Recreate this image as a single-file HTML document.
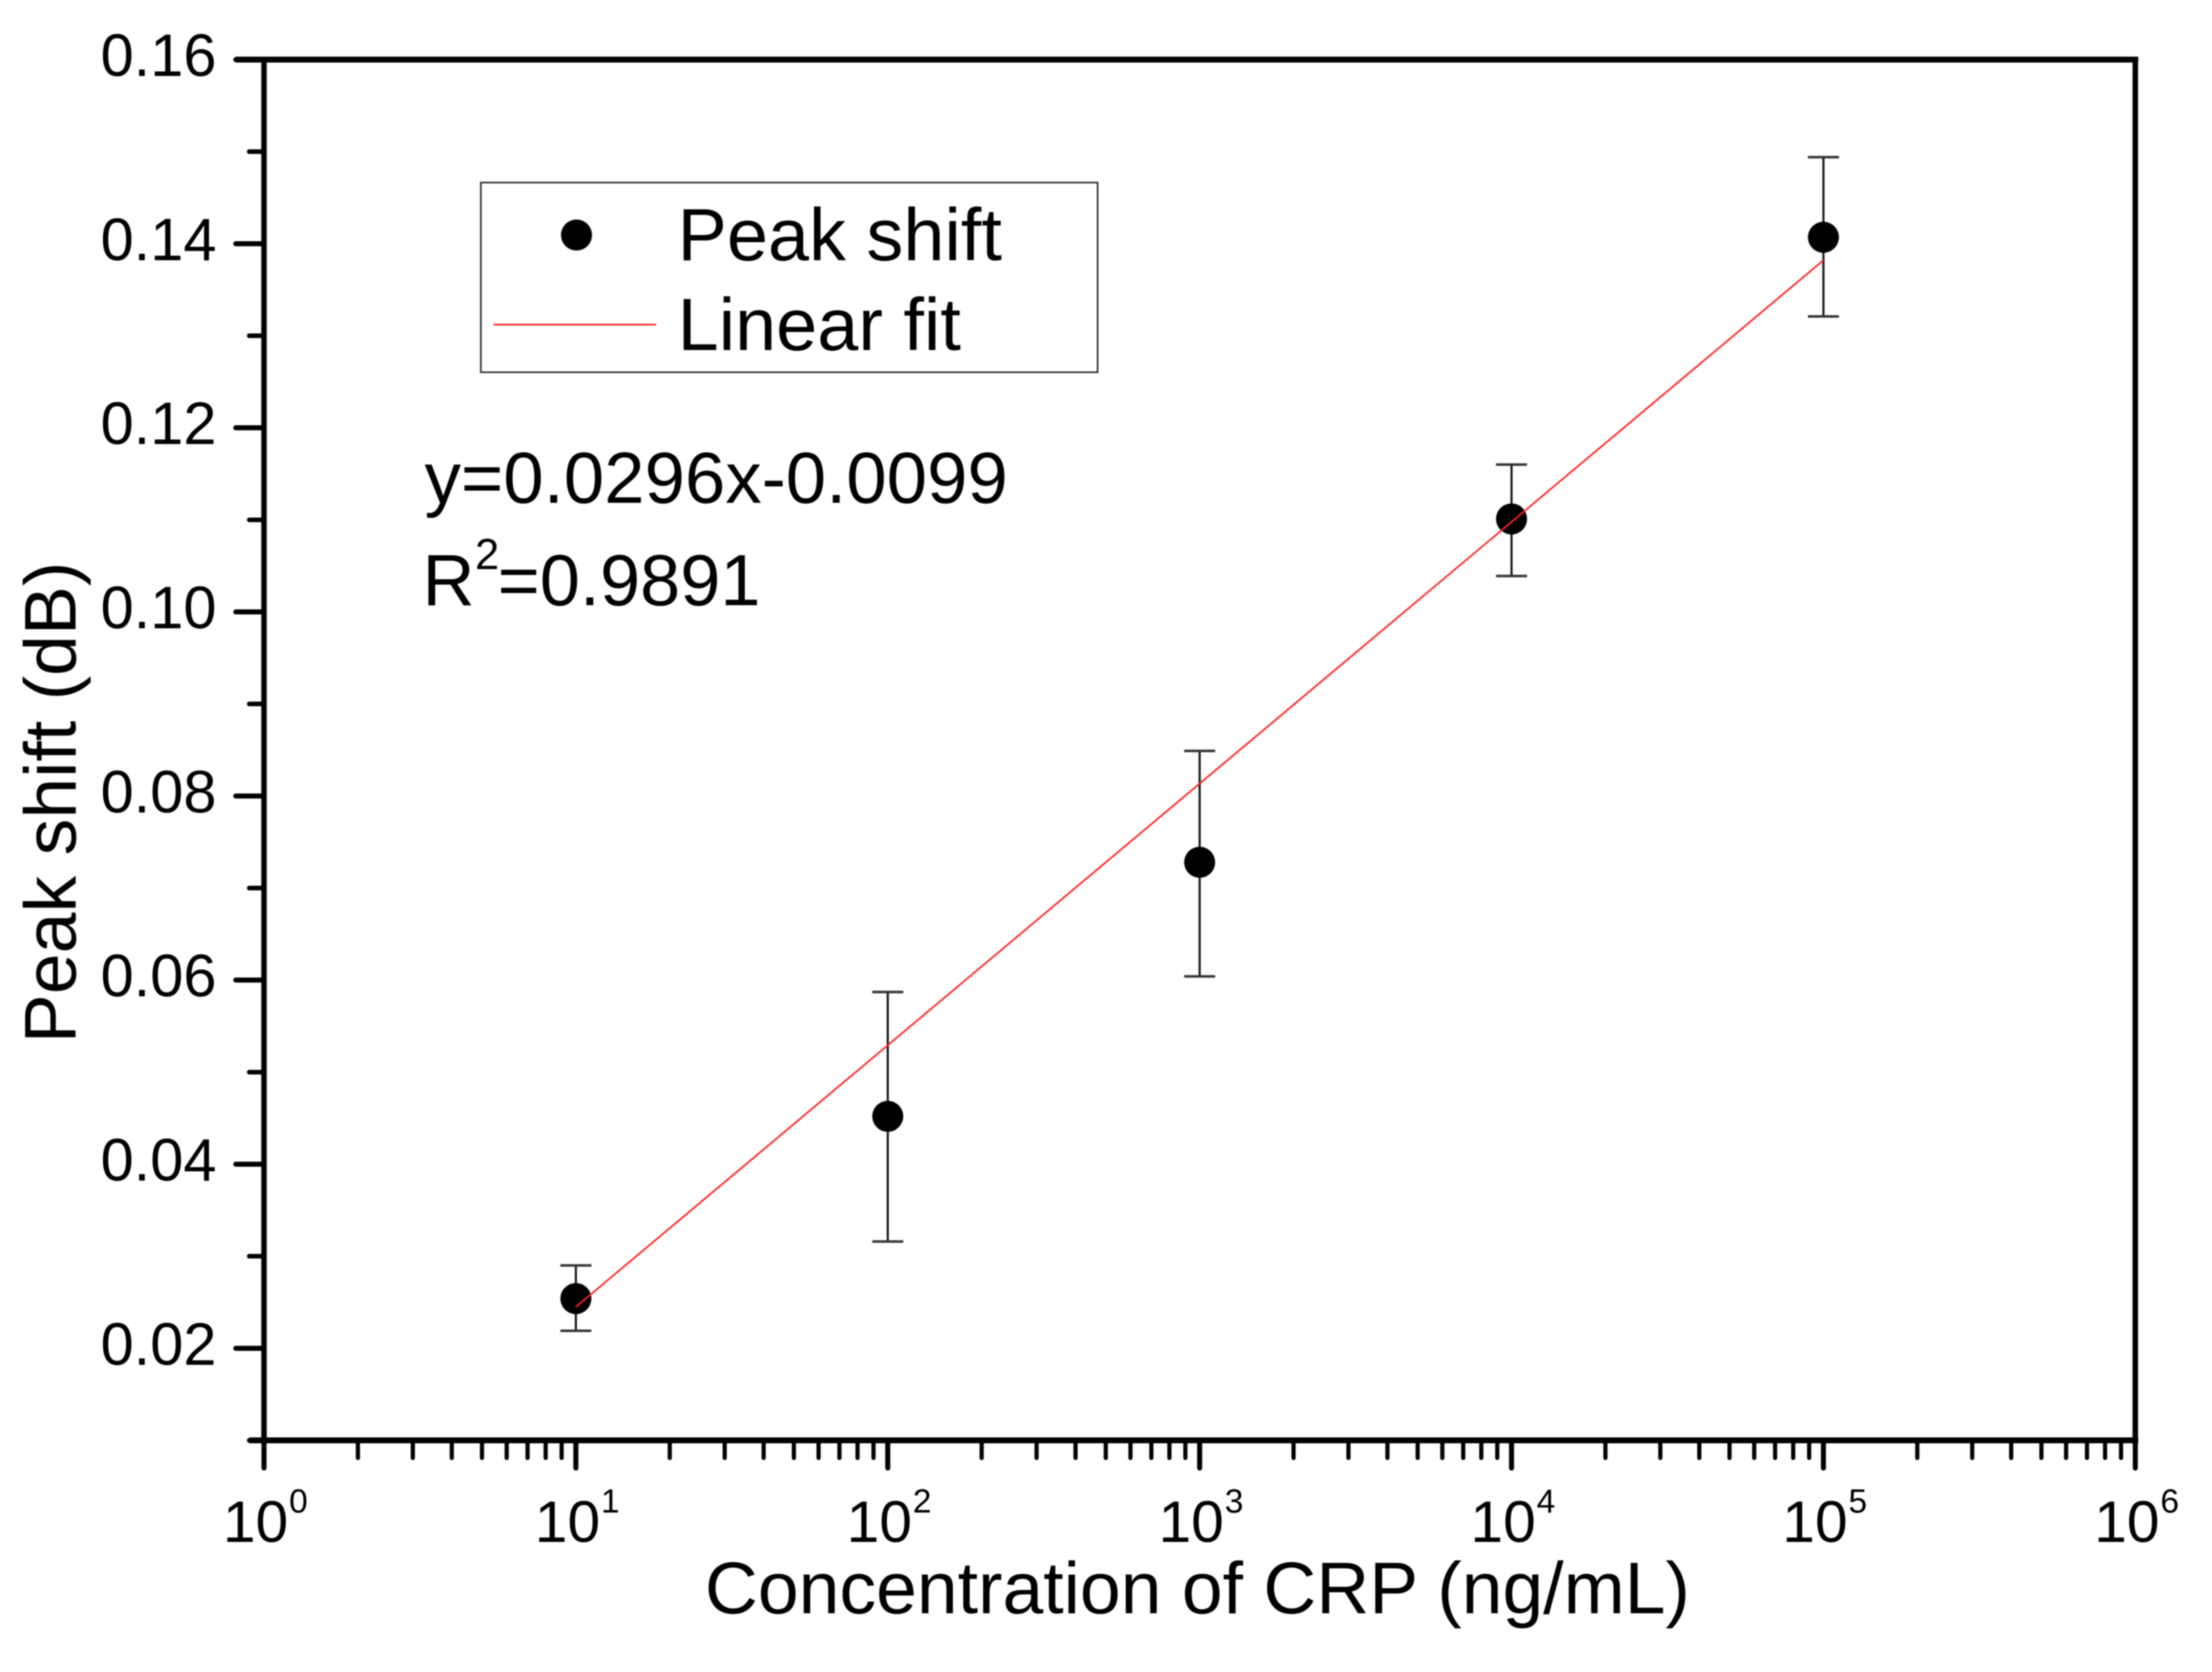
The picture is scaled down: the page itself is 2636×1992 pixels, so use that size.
<!DOCTYPE html>
<html>
<head>
<meta charset="utf-8">
<title>Peak shift vs CRP concentration</title>
<style>
html,body{margin:0;padding:0;background:#fff;}
body{width:2636px;height:1992px;overflow:hidden;}
svg{display:block;filter:blur(0.7px);font-family:"Liberation Sans",Arial,sans-serif;fill:#000;}
</style>
</head>
<body>
<svg id="chart" xmlns="http://www.w3.org/2000/svg" width="2636" height="1992" viewBox="0 0 2636 1992">
  <rect x="0" y="0" width="2636" height="1992" fill="#fff"/>
  <g id="marks"></g>
  <g id="axes"></g>
  <text x="840" y="1922" font-size="87.4">Concentration of CRP (ng/mL)</text>
  <text transform="translate(90,956) rotate(-90)" text-anchor="middle" font-size="87.5">Peak shift (dB)</text>
  <g>
    <rect x="573" y="217.5" width="735" height="226" fill="none" stroke="#333" stroke-width="2"/>
    <circle cx="687" cy="280" r="18.5" fill="#000"/>
    <text x="807.5" y="310" font-size="88">Peak shift</text>
    <line x1="588" x2="782" y1="386.7" y2="386.7" stroke="#f22" stroke-width="2"/>
    <text x="807.5" y="417" font-size="88">Linear fit</text>
  </g>
  <text x="506" y="599" font-size="86.5">y=0.0296x-0.0099</text>
  <g>
    <text x="503.5" y="721" font-size="86">R</text>
    <text x="566" y="678" font-size="52">2</text>
    <text x="593" y="721" font-size="86">=0.9891</text>
  </g>
</svg>
<script>
// Chart data
const concentrations = [10, 100, 1000, 10000, 100000];
const peakShift = [0.0254, 0.0452, 0.0728, 0.1101, 0.1407];
const errorUpper = [0.0290, 0.0587, 0.0849, 0.1160, 0.1494];
const errorLower = [0.0219, 0.0316, 0.0604, 0.1039, 0.1321];
const fitX = [10, 100000];
const fitY = [0.0245, 0.1382];
const yTickValues = [0.02, 0.04, 0.06, 0.08, 0.10, 0.12, 0.14, 0.16];
const yMinorTickValues = [0.01, 0.03, 0.05, 0.07, 0.09, 0.11, 0.13, 0.15];
const yTickLabels = ["0.02", "0.04", "0.06", "0.08", "0.10", "0.12", "0.14", "0.16"];
const xDecadeExponents = [0, 1, 2, 3, 4, 5, 6];
const xMinorMultipliers = [2, 3, 4, 5, 6, 7, 8, 9];

// Axis functions
const plotLeft = 314.6, plotRight = 2544.6, plotTop = 71, plotBottom = 1716;
const yTopValue = 0.16, yBottomValue = 0.01;
function xScale(v) {
  return plotLeft + (Math.log10(v) - 0) / 6 * (plotRight - plotLeft);
}
function yScale(v) {
  return plotTop + (yTopValue - v) / (yTopValue - yBottomValue) * (plotBottom - plotTop);
}

const NS = "http://www.w3.org/2000/svg";
const marks = document.getElementById("marks");
const axes = document.getElementById("axes");
function makeLine(parent, x1, y1, x2, y2, stroke, width, cap) {
  const el = document.createElementNS(NS, "line");
  el.setAttribute("x1", x1);
  el.setAttribute("y1", y1);
  el.setAttribute("x2", x2);
  el.setAttribute("y2", y2);
  el.setAttribute("stroke", stroke);
  el.setAttribute("stroke-width", width);
  if (cap) el.setAttribute("stroke-linecap", cap);
  parent.appendChild(el);
  return el;
}

// Error bars and points
concentrations.forEach(function (c, i) {
  const x = xScale(c);
  const stem = makeLine(marks, x, yScale(errorUpper[i]), x, yScale(errorLower[i]), "#111", 2.5);
  
  
  const capTop = makeLine(marks, x - 18.5, yScale(errorUpper[i]), x + 18.5, yScale(errorUpper[i]), "#333", 3);
  
  
  const capBottom = makeLine(marks, x - 18.5, yScale(errorLower[i]), x + 18.5, yScale(errorLower[i]), "#333", 3);
  
  
  const dot = document.createElementNS(NS, "circle");
  dot.setAttribute("cx", x);
  dot.setAttribute("cy", yScale(peakShift[i]));
  dot.setAttribute("r", 18.5);
  dot.setAttribute("fill", "#000");
  
  
  marks.appendChild(dot);
});

// Linear fit
const fitLine = makeLine(marks, xScale(fitX[0]), yScale(fitY[0]), xScale(fitX[1]), yScale(fitY[1]), "#f22", 2);



// Frame
const frameTop = makeLine(axes, 281, plotTop, plotRight + 3.5, plotTop, "#000", 7);


const frameBottom = makeLine(axes, 297, plotBottom, plotRight + 3.5, plotBottom, "#000", 7);


const frameLeft = makeLine(axes, plotLeft, plotTop, plotLeft, plotBottom, "#000", 6.5);


const frameRight = makeLine(axes, plotRight, plotTop, plotRight, plotBottom, "#000", 6.5);



// Y ticks
yTickValues.forEach(function (v, i) {
  const y = yScale(v);
  const tick = makeLine(axes, 281, y, plotLeft, y, "#000", 6, "round");
  
  
  const label = document.createElementNS(NS, "text");
  label.setAttribute("x", 258);
  label.setAttribute("y", y + 19.5);
  label.setAttribute("text-anchor", "end");
  label.setAttribute("font-size", 71);
  
  
  label.textContent = yTickLabels[i];
  axes.appendChild(label);
});
yMinorTickValues.forEach(function (v) {
  const y = yScale(v);
  const tick = makeLine(axes, 297, y, plotLeft, y, "#000", 5.5, "round");
  
  
});

// X ticks
xDecadeExponents.forEach(function (e) {
  const v = Math.pow(10, e);
  const x = xScale(v);
  const tick = makeLine(axes, x, plotBottom, x, 1749, "#000", 6, "round");
  
  
  const label = document.createElementNS(NS, "text");
  label.setAttribute("x", x - 49);
  label.setAttribute("y", 1837);
  label.setAttribute("font-size", 70);
  
  
  const base = document.createElementNS(NS, "tspan");
  base.textContent = "10";
  label.appendChild(base);
  const sup = document.createElementNS(NS, "tspan");
  sup.setAttribute("dx", 1);
  sup.setAttribute("dy", -35);
  sup.setAttribute("font-size", 40);
  sup.textContent = String(e);
  label.appendChild(sup);
  axes.appendChild(label);
  if (e < 6) {
    xMinorMultipliers.forEach(function (m) {
      const mx = xScale(m * v);
      const minor = makeLine(axes, mx, plotBottom, mx, 1737, "#000", 5, "round");
      
      
    });
  }
});
</script>
</body>
</html>
